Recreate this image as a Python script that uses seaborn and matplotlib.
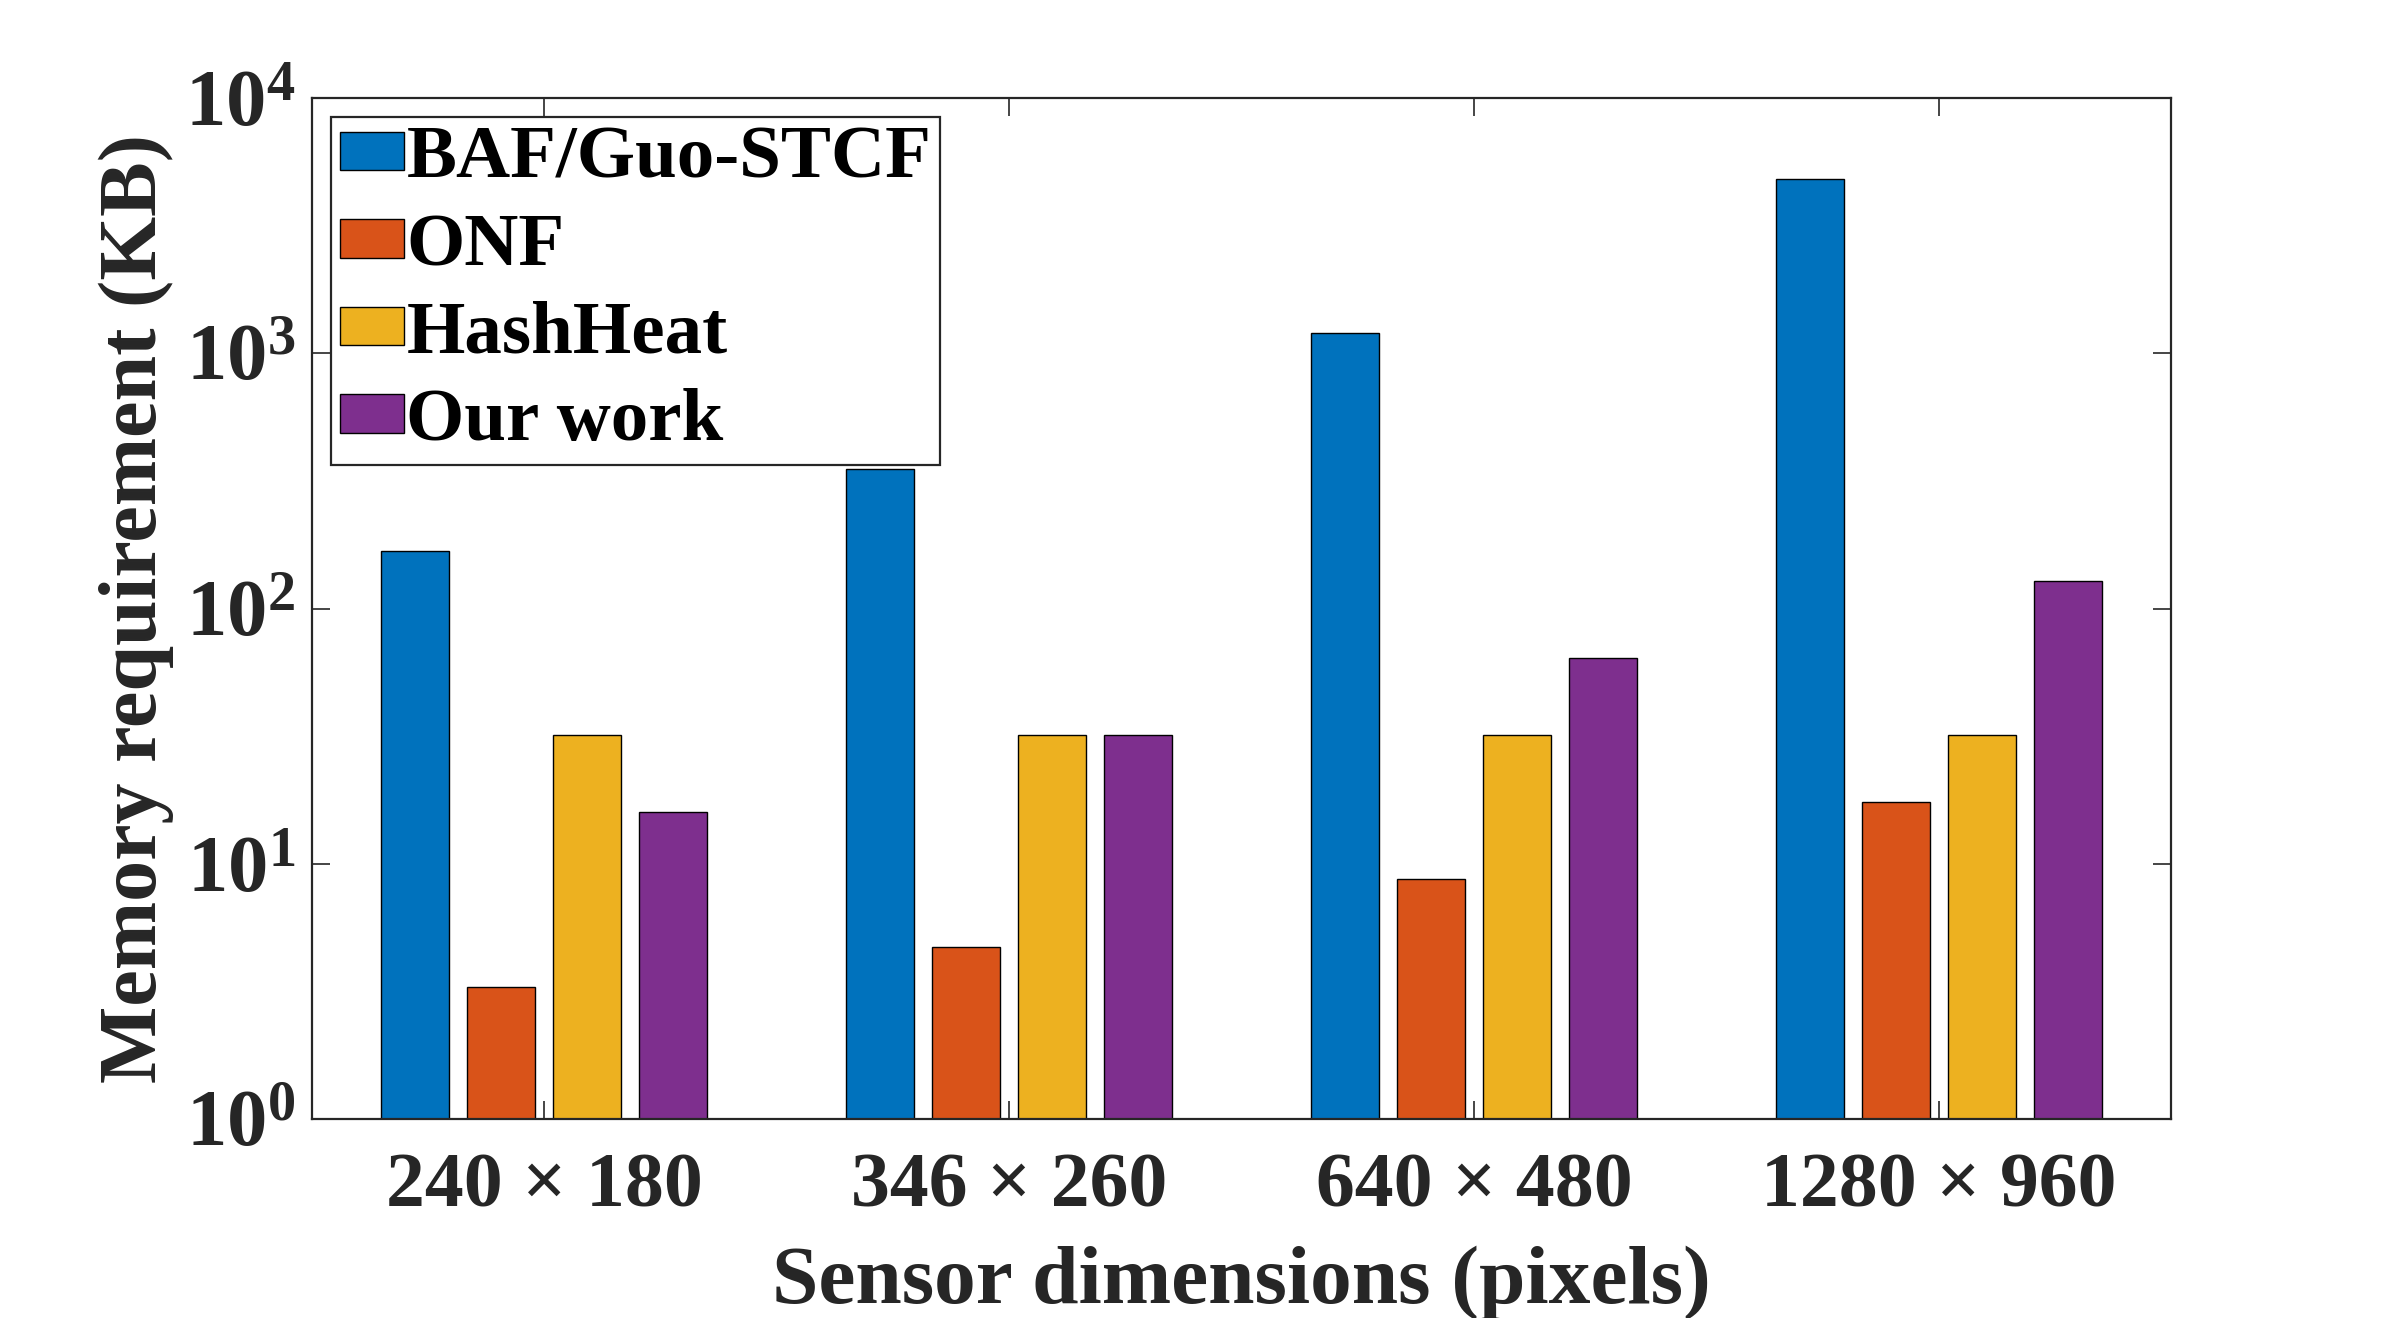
import numpy as np
import pandas as pd
import matplotlib
matplotlib.use("Agg")
import matplotlib.pyplot as plt
import seaborn as sns

# ---- data ----
dimensions = ["240 × 180", "346 × 260", "640 × 480", "1280 × 960"]
methods = ["BAF/Guo-STCF", "ONF", "HashHeat", "Our work"]
baf_stcf = [168.75, 351.4, 1200, 4800]
onf = [3.28, 4.73, 8.75, 17.5]
hashheat = [32, 32, 32, 32]
our_work = [16, 32, 64, 128]
ytick_vals = [1, 10, 100, 1000, 10000]

colors = ["#0072BD", "#D95319", "#EDB120", "#7E2F8E"]

rows = []
for m, vals in zip(methods, [baf_stcf, onf, hashheat, our_work]):
    for d, v in zip(dimensions, vals):
        rows.append({"dim": d, "method": m, "value": v})
df = pd.DataFrame(rows)

sns.set_theme(style="white")
plt.rcParams["font.family"] = ["Liberation Serif", "DejaVu Serif"]
plt.rcParams["font.weight"] = "bold"
plt.rcParams["mathtext.fontset"] = "custom"
plt.rcParams["mathtext.rm"] = "Liberation Serif:bold"
plt.rcParams["mathtext.bf"] = "Liberation Serif:bold"
plt.rcParams["mathtext.it"] = "Liberation Serif:bold:italic"
plt.rcParams["mathtext.default"] = "bf"

fig = plt.figure(figsize=(12, 6.59), dpi=200)
ax = fig.add_axes([0.130, 0.151, 0.7746, 0.7746])

sns.barplot(data=df, x="dim", y="value", hue="method", order=dimensions,
            hue_order=methods, palette=colors, width=0.74, gap=0.21,
            edgecolor="black", linewidth=0.5, saturation=1, ax=ax, legend=True)

ax.set_yscale("log")
ax.set_ylim(1, 1e4)
ax.set_xlim(-0.5, 3.5)
ax.set_yticks(ytick_vals)
ax.set_yticklabels([r"$10^{%d}$" % int(np.log10(v)) for v in ytick_vals])
ax.yaxis.set_minor_locator(matplotlib.ticker.NullLocator())

dark = "#262626"
for s in ax.spines.values():
    s.set_visible(True)
    s.set_color(dark)
    s.set_linewidth(0.8)

ax.tick_params(axis="both", which="major", direction="in", length=6.5, width=0.6,
               color=dark, labelcolor=dark, top=True, right=True, bottom=True, left=True)
ax.tick_params(axis="x", labelsize=28, pad=12)
ax.tick_params(axis="y", labelsize=29, pad=6)

ax.set_xlabel("Sensor dimensions (pixels)", fontsize=30, fontweight="bold", color=dark, labelpad=8)
ax.set_ylabel("Memory requirement (KB)", fontsize=29.5, fontweight="bold", color=dark, labelpad=4)

handles, labels = ax.get_legend_handles_labels()
leg = ax.legend(handles, labels, loc="upper left", fontsize=27, frameon=True,
                fancybox=False, framealpha=1, edgecolor=dark,
                handlelength=0.85, handleheight=0.42, handletextpad=0.04,
                labelspacing=0.26, borderpad=0.12, borderaxespad=0.25)
leg.get_frame().set_linewidth(0.8)
for t in leg.get_texts():
    t.set_color("black")
    t.set_fontweight("bold")

fig.savefig("out.png", dpi=200, facecolor="white")
